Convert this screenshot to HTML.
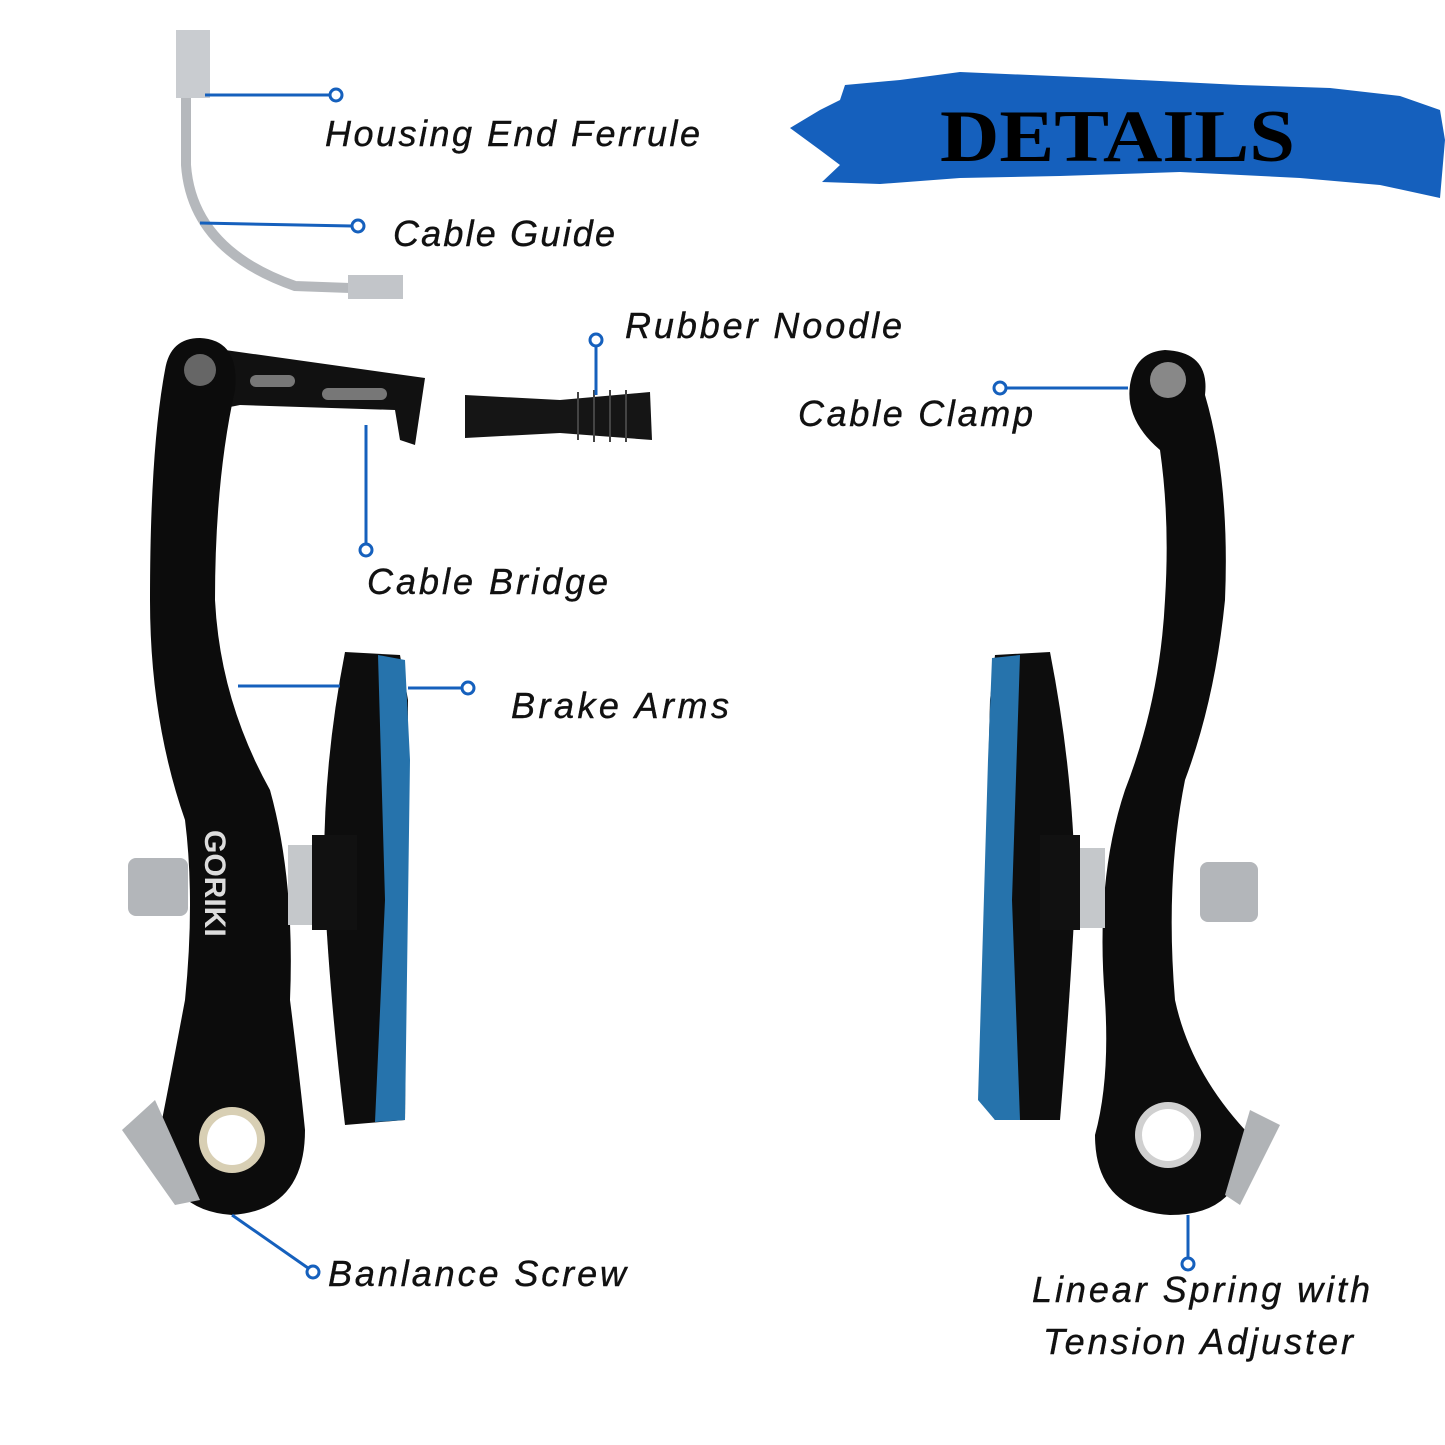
<!DOCTYPE html>
<html><head><meta charset="utf-8"><style>
html,body{margin:0;padding:0;background:#fff}
svg{display:block}
.l{font-family:"Liberation Sans",sans-serif;font-style:italic;font-size:36px;fill:#111;stroke:#111;stroke-width:0.4}
</style></head><body>
<svg width="1445" height="1445" viewBox="0 0 1445 1445" xmlns="http://www.w3.org/2000/svg">
<path d="M845 85 L900 80 L960 72 L1100 78 L1240 85 L1330 88 L1400 96 L1440 110 L1445 140 L1440 198 L1380 185 L1300 178 L1180 172 L1060 176 L960 178 L880 184 L822 182 L840 165 L820 150 L790 128 L820 110 L840 100 Z" fill="#1560bd"/>
<text x="940" y="161" font-family="'Liberation Serif',serif" font-weight="bold" font-size="74" fill="#000" textLength="355" lengthAdjust="spacingAndGlyphs">DETAILS</text>

<path d="M186 95 L186 165 Q192 250 295 286 L350 288" fill="none" stroke="#b5b8bc" stroke-width="10"/>
<rect x="176" y="30" width="34" height="68" fill="#c9ccd0"/>
<rect x="348" y="275" width="55" height="24" fill="#c2c5c9"/>

<path d="M185 345 L225 350 L425 378 L415 445 L400 440 L395 410 L240 405 L215 410 L200 390 Z" fill="#111"/>
<rect x="250" y="375" width="45" height="12" rx="6" fill="#777"/>
<rect x="322" y="388" width="65" height="12" rx="6" fill="#777"/>
<path d="M465 395 L560 400 L650 392 L652 440 L560 433 L465 438 Z" fill="#151515"/>
<g stroke="#444" stroke-width="2"><line x1="578" y1="392" x2="578" y2="440"/><line x1="594" y1="390" x2="594" y2="442"/><line x1="610" y1="390" x2="610" y2="442"/><line x1="626" y1="390" x2="626" y2="442"/></g>

<path d="M200 338 Q240 340 235 390 Q215 480 215 600 Q220 700 270 790 Q295 880 290 1000 Q300 1080 305 1130 Q305 1210 232 1215 Q160 1210 160 1130 Q170 1080 185 1000 Q195 900 185 820 Q150 720 150 600 Q150 450 165 370 Q170 338 200 338 Z" fill="#0c0c0c"/>
<circle cx="232" cy="1140" r="33" fill="#d8cfb4"/><circle cx="232" cy="1140" r="25" fill="#fff"/>
<circle cx="200" cy="370" r="16" fill="#666"/>
<rect x="128" y="858" width="60" height="58" rx="8" fill="#b3b6ba"/>
<rect x="288" y="845" width="30" height="80" fill="#c5c8cb"/>
<path d="M122 1130 L155 1100 L200 1200 L175 1205 Z" fill="#b0b3b6"/>
<text x="0" y="0" transform="translate(205 830) rotate(90)" font-family="'Liberation Sans',sans-serif" font-weight="bold" font-size="30" fill="#ddd">GORIKI</text>
<path d="M345 652 L400 655 L408 700 L405 1120 L345 1125 Q330 1000 325 900 Q320 780 345 652 Z" fill="#0d0d0d"/>
<path d="M378 655 L405 660 L410 760 L405 1120 L375 1122 L385 900 Z" fill="#2673ac"/>
<rect x="312" y="835" width="45" height="95" fill="#111"/>

<path d="M1165 350 Q1210 352 1205 395 Q1230 480 1225 600 Q1215 700 1185 780 Q1165 880 1175 1000 Q1190 1070 1245 1130 Q1250 1215 1170 1215 Q1095 1210 1095 1135 Q1110 1080 1105 1000 Q1095 880 1125 790 Q1160 700 1165 600 Q1170 520 1160 450 Q1125 420 1130 385 Q1135 352 1165 350 Z" fill="#0c0c0c"/>
<circle cx="1168" cy="380" r="18" fill="#888"/>
<circle cx="1168" cy="1135" r="33" fill="#d0d0d0"/><circle cx="1168" cy="1135" r="26" fill="#fff"/>
<rect x="1200" y="862" width="58" height="60" rx="8" fill="#b3b6ba"/>
<rect x="1075" y="848" width="30" height="80" fill="#c5c8cb"/>
<path d="M1250 1110 L1280 1125 L1240 1205 L1225 1195 Z" fill="#b0b3b6"/>
<path d="M995 655 L1050 652 Q1075 780 1075 900 Q1070 1000 1060 1120 L995 1120 L980 1100 L990 700 Z" fill="#0d0d0d"/>
<path d="M992 658 L1020 655 L1012 900 L1020 1120 L995 1120 L978 1100 L988 760 Z" fill="#2673ac"/>
<rect x="1040" y="835" width="40" height="95" fill="#111"/>

<g stroke="#1560bd" stroke-width="3" fill="#fff">
<line x1="205" y1="95" x2="330" y2="95"/><circle cx="336" cy="95" r="6"/>
<line x1="200" y1="223" x2="352" y2="226"/><circle cx="358" cy="226" r="6"/>
<line x1="596" y1="346" x2="596" y2="395"/><circle cx="596" cy="340" r="6"/>
<line x1="1006" y1="388" x2="1128" y2="388"/><circle cx="1000" cy="388" r="6"/>
<line x1="366" y1="425" x2="366" y2="544"/><circle cx="366" cy="550" r="6"/>
<line x1="238" y1="686" x2="340" y2="686"/><line x1="408" y1="688" x2="462" y2="688"/><circle cx="468" cy="688" r="6"/>
<line x1="232" y1="1215" x2="308" y2="1268"/><circle cx="313" cy="1272" r="6"/>
<line x1="1188" y1="1215" x2="1188" y2="1258"/><circle cx="1188" cy="1264" r="6"/>
</g>

<text class="l" x="325" y="146" textLength="375">Housing End Ferrule</text>
<text class="l" x="393" y="246" textLength="222">Cable Guide</text>
<text class="l" x="625" y="338" textLength="277">Rubber Noodle</text>
<text class="l" x="798" y="426" textLength="235">Cable Clamp</text>
<text class="l" x="367" y="594" textLength="241">Cable Bridge</text>
<text class="l" x="511" y="718" textLength="218">Brake Arms</text>
<text class="l" x="328" y="1286" textLength="298">Banlance Screw</text>
<text class="l" x="1032" y="1302" textLength="338">Linear Spring with</text>
<text class="l" x="1043" y="1354" textLength="310">Tension Adjuster</text>
</svg>
</body></html>
